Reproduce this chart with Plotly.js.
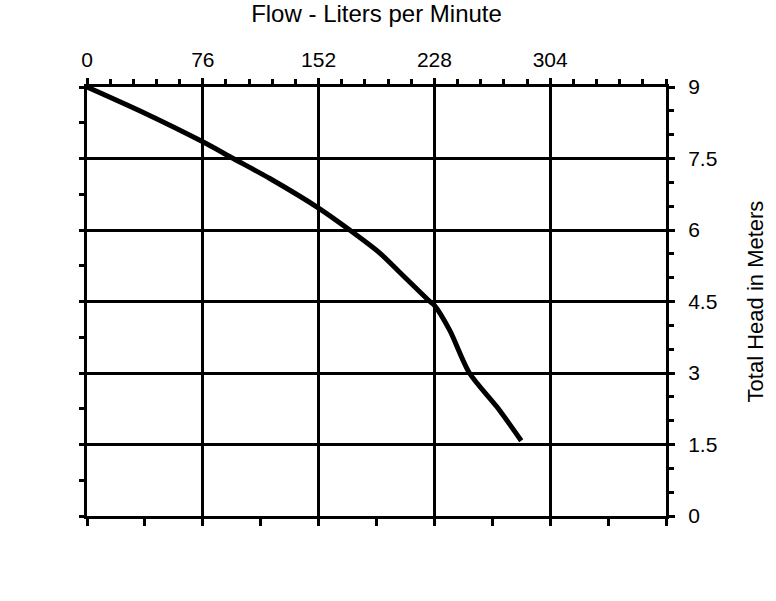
<!DOCTYPE html>
<html>
<head>
<meta charset="utf-8">
<script src="https://cdn.plot.ly/plotly-3.0.1.min.js"></script>
<style>
html,body{margin:0;padding:0;background:#fff;}
#chart{width:776px;height:601px;}
</style>
</head>
<body>
<div id="chart"></div>
<script>
// Flow (liters per minute) vs total head (meters)
const flowLpm = [0, 38, 76, 96, 120, 152, 171.5, 192, 205, 225, 228, 238, 251, 269, 285];
const headM   = [9, 8.45, 7.85, 7.5, 7.08, 6.46, 6.02, 5.52, 5.12, 4.5, 4.42, 3.9, 3.0, 2.29, 1.58];

const flowTicks = [0, 76, 152, 228, 304];
const xTitle = "Flow - Liters per Minute";
const yTitle = "Total Head in Meters";

const xRange = [0, 380];
const yRange = [0, 9];

const fontFam = "Liberation Sans, Arial, Helvetica, sans-serif";

const traces = [
  {
    x: flowLpm, y: headM, type: 'scatter', mode: 'lines',
    line: {color: '#000', width: 5, shape: 'spline', smoothing: 0.8},
    xaxis: 'x', yaxis: 'y', hoverinfo: 'skip', showlegend: false
  },
  {
    x: [xRange[0]], y: [yRange[0]], type: 'scatter', mode: 'markers',
    marker: {opacity: 0}, xaxis: 'x2', yaxis: 'y2', hoverinfo: 'skip', showlegend: false
  }
];

const layout = {
  width: 776, height: 601,
  margin: {l: 87, r: 110, t: 87, b: 85},
  paper_bgcolor: '#fff', plot_bgcolor: '#fff',
  font: {family: fontFam, color: '#000', size: 21},
  showlegend: false,
  xaxis: {
    side: 'top', range: xRange, tickmode: 'array', tickvals: flowTicks, ticktext: flowTicks.map(String),
    showline: true, linecolor: '#000', linewidth: 3,
    ticks: 'outside', ticklen: 6, tickwidth: 3, tickcolor: '#000',
    showgrid: true, gridcolor: '#000', gridwidth: 3, zeroline: false,
    tickfont: {size: 21, family: fontFam}, ticklabelstandoff: 3,
    minor: {tickmode: 'linear', dtick: 15.2, tick0: 0, ticks: 'outside', ticklen: 5, tickwidth: 3, tickcolor: '#000', showgrid: false},
    title: {text: xTitle, font: {size: 24, family: fontFam}, standoff: 25},
    fixedrange: true
  },
  xaxis2: {
    overlaying: 'x', side: 'bottom', anchor: 'y2', range: xRange, dtick: 38, tick0: 0,
    showline: true, linecolor: '#000', linewidth: 3,
    ticks: 'outside', ticklen: 7, tickwidth: 3, tickcolor: '#000',
    showgrid: false, zeroline: false, showticklabels: false, fixedrange: true
  },
  yaxis: {
    side: 'right', range: yRange, dtick: 1.5, tick0: 0,
    showline: true, linecolor: '#000', linewidth: 3,
    ticks: 'outside', ticklen: 6, tickwidth: 3, tickcolor: '#000',
    showgrid: true, gridcolor: '#000', gridwidth: 3, zeroline: false,
    tickfont: {size: 21, family: fontFam}, ticklabelstandoff: 9,
    minor: {dtick: 0.5, tick0: 0, ticks: 'outside', ticklen: 5, tickwidth: 3, tickcolor: '#000', showgrid: false},
    title: {text: yTitle, font: {size: 22, family: fontFam}, standoff: 32},
    fixedrange: true
  },
  yaxis2: {
    overlaying: 'y', side: 'left', anchor: 'x2', range: yRange, dtick: 0.75, tick0: 0,
    showline: true, linecolor: '#000', linewidth: 3,
    ticks: 'outside', ticklen: 5, tickwidth: 3, tickcolor: '#000',
    showgrid: false, zeroline: false, showticklabels: false, fixedrange: true
  }
};

Plotly.newPlot('chart', traces, layout, {displayModeBar: false, staticPlot: true});
</script>
</body>
</html>
